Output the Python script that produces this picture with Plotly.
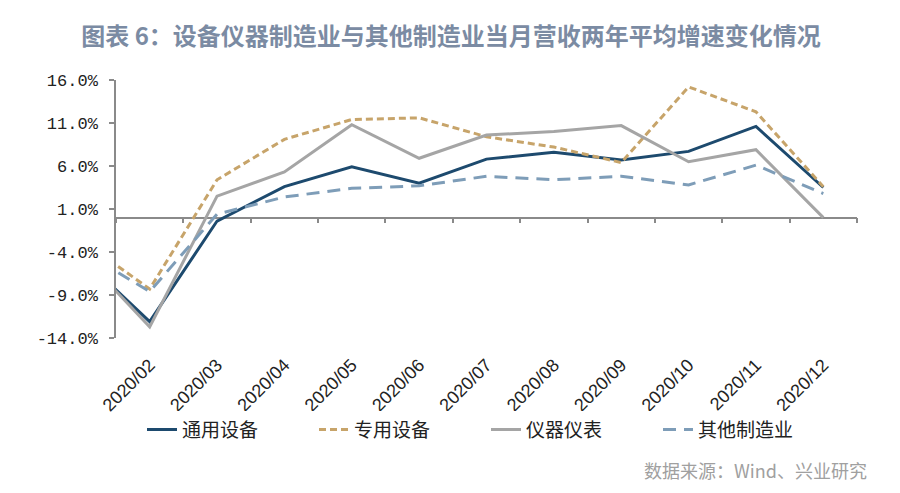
import plotly.graph_objects as go

# Categories (2020/01 is a leading point whose segment is cut off at the left axis)
categories = ["2020/01", "2020/02", "2020/03", "2020/04", "2020/05", "2020/06",
              "2020/07", "2020/08", "2020/09", "2020/10", "2020/11", "2020/12"]

tongyong = [-4.7, -12.1, -0.4, 3.6, 5.9, 4.0, 6.8, 7.6, 6.7, 7.7, 10.6, 3.5]
zhuanyong = [-2.7, -8.3, 4.4, 9.1, 11.4, 11.6, 9.4, 8.2, 6.4, 15.2, 12.3, 3.6]
yiqi = [-4.4, -12.7, 2.5, 5.3, 10.8, 6.9, 9.6, 10.0, 10.7, 6.5, 7.9, 0.0]
qita = [-3.9, -8.6, 0.4, 2.4, 3.4, 3.7, 4.8, 4.4, 4.8, 3.8, 6.1, 2.8]

y_tickvals = [16, 11, 6, 1, -4, -9, -14]
y_ticktext = ["16.0%", "11.0%", "6.0%", "1.0%", "-4.0%", "-9.0%", "-14.0%"]

title_text = "图表 6：设备仪器制造业与其他制造业当月营收两年平均增速变化情况"
source_text = "数据来源：Wind、兴业研究"

Y_MIN, Y_MAX = -14, 16

# page body has an 8px default margin; plot area on screen: x 116..857, y 80..338
OFF = 8
PL, PR, PT, PB = 116, 857, 80, 338.3

fig = go.Figure()

series = [
    ("通用设备", tongyong, "#1D4A6E", "solid", 3),
    ("专用设备", zhuanyong, "#C7A46A", "7px,4px", 3),
    ("仪器仪表", yiqi, "#A5A5A5", "solid", 3),
    ("其他制造业", qita, "#7E9DB8", "13px,8px", 3),
]
for name, vals, color, dash, w in series:
    fig.add_trace(go.Scatter(
        x=categories, y=vals, name=name, mode="lines",
        line=dict(color=color, width=w, dash=dash),
        xaxis="x", yaxis="y",
    ))

# invisible helper trace for the zero-crossing category axis
fig.add_trace(go.Scatter(
    x=categories, y=tongyong, mode="lines", line=dict(width=0),
    opacity=0, showlegend=False, hoverinfo="skip", xaxis="x2", yaxis="y",
))

tick_font = dict(family="Liberation Sans, Arial, sans-serif", size=18, color="#222222")

fig.update_layout(
    width=900, height=493,
    margin=dict(l=PL - OFF, r=900 - (PR - OFF), t=PT - OFF, b=493 - (PB - OFF), autoexpand=False),
    plot_bgcolor="white", paper_bgcolor="white",
    title=dict(text="<b>" + title_text + "</b>", x=(451 - OFF) / 900, xref="container", xanchor="center",
               y=1 - (37 - OFF) / 493, yref="container", yanchor="middle",
               font=dict(family="Noto Sans CJK SC", size=24, color="#7B8BA3")),
    xaxis=dict(
        type="category", categoryorder="array", categoryarray=categories,
        range=[0.5, 11.5], showgrid=False, showline=False, ticks="",
        tickangle=-45, tickfont=tick_font, anchor="y", zeroline=False,
        ticklabelstandoff=12,
    ),
    xaxis2=dict(
        type="category", categoryorder="array", categoryarray=categories,
        overlaying="x", matches="x", anchor="free",
        position=(0 - Y_MIN) / (Y_MAX - Y_MIN),
        showgrid=False, showline=True, linecolor="#8A8A8A", linewidth=1.5,
        ticks="outside", tickson="boundaries", ticklen=5, tickcolor="#8A8A8A",
        tickwidth=1.5, showticklabels=False, layer="below traces", zeroline=False,
    ),
    yaxis=dict(
        range=[Y_MIN, Y_MAX], tickvals=y_tickvals, ticktext=y_ticktext,
        showgrid=False, zeroline=False, showline=True, linecolor="#8A8A8A",
        linewidth=1.5, ticks="outside", ticklen=5, tickcolor="#8A8A8A", tickwidth=1.5,
        tickfont=dict(family="Liberation Mono, DejaVu Sans Mono, monospace", size=17, color="#222222"),
        ticklabelstandoff=8,
    ),
    legend=dict(
        orientation="h", x=(142 - PL) / (PR - PL), xanchor="left",
        y=(PB - 430) / (PB - PT), yanchor="middle",
        font=dict(family="Noto Sans CJK SC", size=19, color="#222222"),
        entrywidth=127, entrywidthmode="pixels", traceorder="normal",
    ),
    showlegend=True,
    annotations=[dict(
        text=source_text, xref="paper", yref="paper", x=(869 - PL) / (PR - PL), xanchor="right",
        y=(PB - 470) / (PB - PT), yanchor="middle", showarrow=False,
        font=dict(family="Noto Sans CJK SC", size=18, color="#A0A0A0"),
    )],
)

fig.write_html("out.html")
